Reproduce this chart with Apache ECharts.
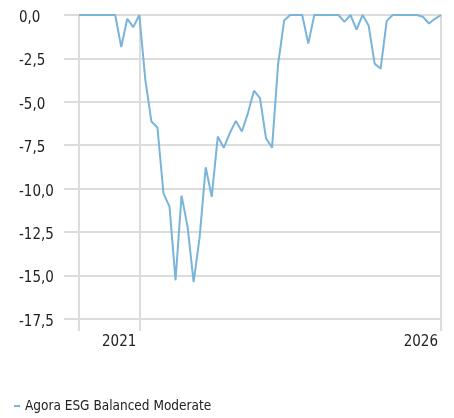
<!DOCTYPE html>
<html>
<head>
<meta charset="utf-8">
<script src="https://cdn.jsdelivr.net/npm/echarts@6/dist/echarts.min.js"></script>
<style>
  html, body { margin: 0; padding: 0; background: #fff; }
  #chart { width: 454px; height: 418px; }
</style>
</head>
<body>
<div id="chart"></div>
<script>
// drawdown in %, one point per period
var drawdown = [
  0, 0, 0, 0, 0, 0, 0, -1.84, -0.22, -0.70,
  0, -3.75, -6.13, -6.48, -10.27, -11.04, -15.28, -10.40, -12.20, -15.38,
  -12.78, -8.77, -10.47, -7.00, -7.64, -6.80, -6.10, -6.71, -5.65, -4.36,
  -4.79, -7.10, -7.64, -2.85, -0.32, 0, 0, 0, -1.65, 0,
  0, 0, 0, 0, -0.40, 0, -0.84, 0, -0.60, -2.80,
  -3.09, -0.34, 0, 0, 0, 0, 0, -0.10, -0.49, -0.22,
  0
];
var periods = drawdown.map(function(_, i){ return String(i); });
var yearTickIndex = [0, 10, 60];
var yearTickLabel = ['', '2021', '2026'];
var yTicks = [0, -2.5, -5, -7.5, -10, -12.5, -15, -17.5];
var seriesName = 'Agora ESG Balanced Moderate';

var FONT = "'Liberation Sans Narrow', 'DejaVu Sans Condensed', sans-serif";
var GRID_COLOR = '#dcdcdc';
var TEXT_COLOR = '#222';

var myChart = echarts.init(document.getElementById('chart'), null, {renderer: 'canvas'});
var option = {
  animation: false,
  textStyle: { fontFamily: FONT },
  grid: {
    left: 79, right: 13, top: 15, bottom: 87,
    containLabel: false,
    outerBoundsMode: 'none'
  },
  legend: {
    left: 14, top: 399, padding: 0,
    icon: 'rect', itemWidth: 6, itemHeight: 2,
    data: [seriesName],
    textStyle: { fontFamily: FONT, fontSize: 13.5, color: TEXT_COLOR }
  },
  xAxis: {
    type: 'category',
    boundaryGap: false,
    data: periods,
    axisLine: { show: false },
    axisTick: { show: false },
    splitLine: {
      show: true,
      interval: function(i){ return yearTickIndex.indexOf(i) >= 0; },
      lineStyle: { color: GRID_COLOR, width: 2 }
    },
    axisLabel: {
      interval: 0,
      margin: 4,
      align: 'right',
      padding: [0, 3, 0, 0],
      fontFamily: FONT, fontSize: 15, color: TEXT_COLOR,
      formatter: function(v, i){
        var k = yearTickIndex.indexOf(i);
        return k >= 0 ? yearTickLabel[k] : '';
      }
    }
  },
  yAxis: {
    type: 'value',
    min: -18.2,
    max: 0,
    axisLine: { show: false },
    axisTick: {
      show: true, length: 15, customValues: yTicks,
      lineStyle: { color: GRID_COLOR, width: 2 }
    },
    splitLine: { show: true, lineStyle: { color: GRID_COLOR, width: 2 } },
    axisLabel: {
      customValues: yTicks,
      align: 'left',
      margin: 60,
      color: TEXT_COLOR,
      formatter: function(v){
        return '{s|}\n{v|' + v.toFixed(1).replace('.', ',') + '}';
      },
      rich: {
        s: { lineHeight: 6, fontSize: 1 },
        v: { fontFamily: FONT, fontSize: 15, lineHeight: 16, color: TEXT_COLOR }
      }
    }
  },
  series: [{
    name: seriesName,
    type: 'line',
    data: drawdown,
    symbol: 'none',
    color: '#7ab4d9',
    lineStyle: { color: '#7ab4d9', width: 2 }
  }]
};
myChart.setOption(option);
</script>
</body>
</html>
